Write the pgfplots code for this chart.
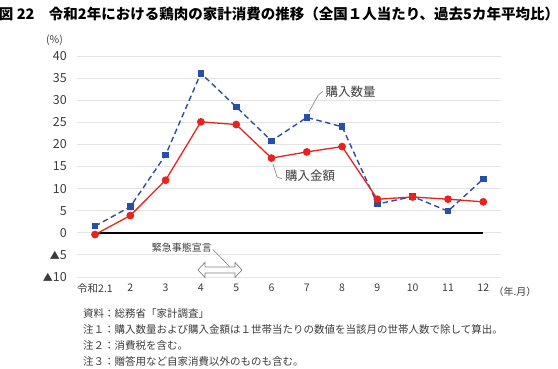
\documentclass[border=0pt]{standalone}
\usepackage{fontspec}
\setmainfont{Noto Sans CJK JP}
\usepackage{pgfplots}
\pgfplotsset{compat=1.18}
\definecolor{qblue}{RGB}{40,78,165}
\definecolor{ared}{RGB}{230,35,30}
\definecolor{gridc}{RGB}{228,228,228}
\definecolor{txt}{RGB}{60,60,60}
\newcommand{\tri}{{\fontsize{10}{12}\selectfont ▲}}
\begin{document}
\begin{tikzpicture}[x=1pt,y=1pt]
\useasboundingbox (0,0) rectangle (558,369);
\node[anchor=center,text=black] at (279,355) {\fontsize{14.5}{16}\selectfont\bfseries 図 22\quad 令和2年における鶏肉の家計消費の推移（全国１人当たり、過去5カ年平均比）};
\node[text=txt] at (54.5,329) {\fontsize{10.5}{12}\selectfont (\%)};
\begin{axis}[
  at={(77.35pt,92pt)}, anchor=south west,
  scale only axis, width=423.6pt, height=221pt,
  xmin=0.5, xmax=12.5, ymin=-10, ymax=40,
  axis line style={draw=none},
  major tick length=0pt,
  xtick={1,...,12},
  xticklabels={令和2.1,2,3,4,5,6,7,8,9,10,11,12},
  ytick={-10,-5,0,5,10,15,20,25,30,35,40},
  yticklabels={\tri 10,\tri 5,0,5,10,15,20,25,30,35,40},
  ymajorgrids, grid style={gridc, line width=0.8pt},
  xticklabel style={font=\fontsize{10.5}{12}\selectfont, text=txt, yshift=-3pt},
  yticklabel style={font=\fontsize{12.5}{14}\selectfont, text=txt, xshift=-7pt},
  /pgf/number format/assume math mode=true,
  clip=false,
]
\draw[black, line width=1.6pt] (axis cs:1,0) -- (axis cs:12,0);
\addplot[qblue, line width=1.4pt, dash pattern=on 5.5pt off 3.5pt, mark=square*, mark size=2.6pt, mark options={solid}]
  coordinates {(1,1.5) (2,5.9) (3,17.6) (4,36.1) (5,28.5) (6,20.8) (7,26.1) (8,24.0) (9,6.5) (10,8.2) (11,4.9) (12,12.2)};
\addplot[ared, line width=1.3pt, mark=*, mark size=3.2pt]
  coordinates {(1,-0.4) (2,3.9) (3,11.9) (4,25.1) (5,24.5) (6,16.9) (7,18.3) (8,19.5) (9,7.6) (10,8.1) (11,7.6) (12,7.0)};
% series labels
\draw[gray, line width=0.6pt] (axis cs:7.06,27.3) -- (axis cs:7.32,31.1) -- (axis cs:7.45,32.0);
\node[anchor=west, fill=white, inner sep=1pt, text=txt] at (axis cs:7.5,31.9) {\fontsize{12.5}{14}\selectfont 購入数量};
\draw[gray, line width=0.6pt] (axis cs:6.04,15.6) -- (axis cs:6.16,12.6) -- (axis cs:6.3,12.2);
\node[anchor=west, fill=white, inner sep=1pt, text=txt] at (axis cs:6.35,12.85) {\fontsize{12.5}{14}\selectfont 購入金額};
% emergency declaration
\node[text=txt, fill=white, inner sep=1pt] at (axis cs:3.46,-3.4) {\fontsize{10}{12}\selectfont 緊急事態宣言};
\draw[gray, line width=0.6pt] (axis cs:4.34,-3.8) -- (axis cs:4.82,-7.7);
\draw[gray, line width=0.7pt, fill=white] (axis cs:4.54,-8.4) ++(-22pt,0pt) -- ++(7pt,7.5pt) -- ++(0pt,-4.5pt) -- ++(30pt,0pt) -- ++(0pt,4.5pt) -- ++(7pt,-7.5pt) -- ++(-7pt,-7.5pt) -- ++(0pt,4.5pt) -- ++(-30pt,0pt) -- ++(0pt,-4.5pt) -- cycle;
\end{axis}
\node[anchor=west, text=txt] at (490,77) {\fontsize{10}{11}\selectfont （年.月）};
\begin{scope}[every node/.style={anchor=west, text=txt, inner sep=0pt}]
\node at (83,55) {\fontsize{10.5}{12}\selectfont 資料：総務省「家計調査」};
\node at (83,39) {\fontsize{10.5}{12}\selectfont 注１：購入数量および購入金額は１世帯当たりの数値を当該月の世帯人数で除して算出。};
\node at (83,23) {\fontsize{10.5}{12}\selectfont 注２：消費税を含む。};
\node at (83,8) {\fontsize{10.5}{12}\selectfont 注３：贈答用など自家消費以外のものも含む。};
\end{scope}
\end{tikzpicture}
\end{document}
